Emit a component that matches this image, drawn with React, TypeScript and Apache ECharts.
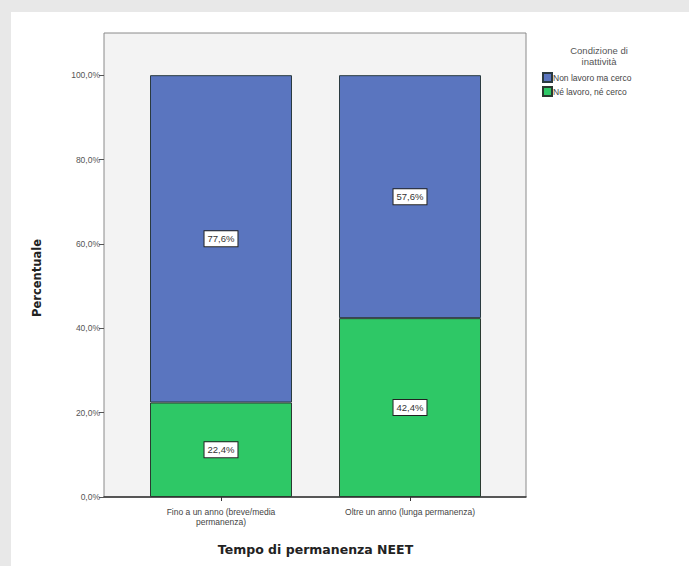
import React, { useEffect, useRef } from "react";
import * as echarts from "echarts";

const categories = ["Fino a un anno (breve/media\npermanenza)", "Oltre un anno (lunga permanenza)"];
const seriesNames = ["Non lavoro ma cerco", "Né lavoro, né cerco"];
const cercoValues = [77.6, 57.6];
const neValues = [22.4, 42.4];
const yTicks = [0, 20, 40, 60, 80, 100];
const yTitle = "Percentuale";
const xTitle = "Tempo di permanenza NEET";
const legendTitle = "Condizione di\ninattività";

const fmt = (v: number) => v.toFixed(1).replace(".", ",") + "%";

export default function App() {
  const ref = useRef<HTMLDivElement>(null);
  useEffect(() => {
    const chart = echarts.init(ref.current!, null, { renderer: "svg" });
    const labelStyle = {
      show: true,
      position: "inside" as const,
      formatter: (p: any) => fmt(p.value),
      backgroundColor: "#ffffff",
      borderColor: "#222",
      borderWidth: 1,
      padding: [3, 3, 2, 3],
      color: "#333",
      fontSize: 9.5,
      fontFamily: "Liberation Sans, Arial, sans-serif",
    };
    const option: any = {
      animation: false,
      backgroundColor: "#ffffff",
      title: {
        text: legendTitle,
        left: 583,
        top: 28,
        textAlign: "center",
        textStyle: {
          fontSize: 9.5,
          fontWeight: "normal",
          color: "#555",
          lineHeight: 11,
          fontFamily: "Liberation Sans, Arial, sans-serif",
        },
      },
      graphic: [
        {
          type: "text",
          x: 26,
          y: 266,
          rotation: Math.PI / 2,
          style: {
            text: yTitle,
            fontSize: 11.5,
            fontWeight: "bold",
            fill: "#222",
            fontFamily: "DejaVu Sans, Verdana, sans-serif",
            textAlign: "center",
            textVerticalAlign: "middle",
          },
        },
      ],
      legend: {
        orient: "vertical",
        left: 526,
        top: 55,
        itemWidth: 9,
        itemHeight: 9,
        itemGap: 3,
        icon: "rect",
        data: seriesNames,
        textStyle: {
          fontSize: 8.5,
          color: "#444",
          padding: [0, 0, 0, -4],
          fontFamily: "Liberation Sans, Arial, sans-serif",
        },
      },
      grid: [
        {
          left: 93,
          top: 21,
          width: 422,
          height: 464,
          show: true,
          backgroundColor: "#f3f3f3",
          borderColor: "#8a8a8a",
          borderWidth: 1,
          outerBoundsMode: "none",
          containLabel: false,
        },
        {
          left: 115.5,
          top: 21,
          width: 378,
          height: 464,
          outerBoundsMode: "none",
          containLabel: false,
        },
      ],
      xAxis: [
        {
          gridIndex: 0,
          type: "value",
          min: 0,
          max: 1,
          axisLine: { show: true, lineStyle: { color: "#333", width: 1.5 } },
          axisTick: { show: false },
          axisLabel: { show: false },
          splitLine: { show: false },
        },
        {
          gridIndex: 1,
          type: "category",
          data: categories,
          name: xTitle,
          nameLocation: "middle",
          nameGap: 46,
          nameTextStyle: {
            fontSize: 12.5,
            fontWeight: "bold",
            color: "#222",
            fontFamily: "DejaVu Sans, Verdana, sans-serif",
          },
          axisLine: { show: false },
          axisTick: { show: true, alignWithLabel: true, length: 4, lineStyle: { color: "#333" } },
          axisLabel: {
            fontSize: 8.5,
            color: "#444",
            lineHeight: 10,
            margin: 10,
            interval: 0,
            fontFamily: "Liberation Sans, Arial, sans-serif",
          },
        },
      ],
      yAxis: [
        {
          gridIndex: 0,
          type: "value",
          min: 0,
          max: 110,
          interval: 20,
          axisLine: { show: false },
          axisTick: { show: true, length: 5, lineStyle: { color: "#555" } },
          splitLine: { show: false },
          axisLabel: {
            showMaxLabel: false,
            fontSize: 8.5,
            color: "#555",
            margin: 4,
            fontFamily: "Liberation Sans, Arial, sans-serif",
            formatter: (v: number) => (yTicks.includes(v) ? fmt(v) : ""),
          },
        },
        {
          gridIndex: 1,
          type: "value",
          min: 0,
          max: 110,
          interval: 20,
          show: false,
        },
      ],
      series: [
        {
          name: seriesNames[1],
          type: "bar",
          stack: "tot",
          xAxisIndex: 1,
          yAxisIndex: 1,
          barWidth: 142,
          data: neValues,
          itemStyle: { color: "#2ec866", borderColor: "#2a3a30", borderWidth: 1 },
          label: labelStyle,
        },
        {
          name: seriesNames[0],
          type: "bar",
          stack: "tot",
          xAxisIndex: 1,
          yAxisIndex: 1,
          barWidth: 142,
          data: cercoValues,
          itemStyle: { color: "#5a75bf", borderColor: "#2a3a40", borderWidth: 1 },
          label: labelStyle,
        },
      ],
    };
    chart.setOption(option);
    return () => chart.dispose();
  }, []);
  return (
    <div
      style={{
        position: "fixed",
        left: 0,
        top: 0,
        width: 689,
        height: 566,
        background: "#e8e8e8",
      }}
    >
      <div
        ref={ref}
        style={{ position: "absolute", left: 11, top: 12, width: 678, height: 554 }}
      />
    </div>
  );
}
